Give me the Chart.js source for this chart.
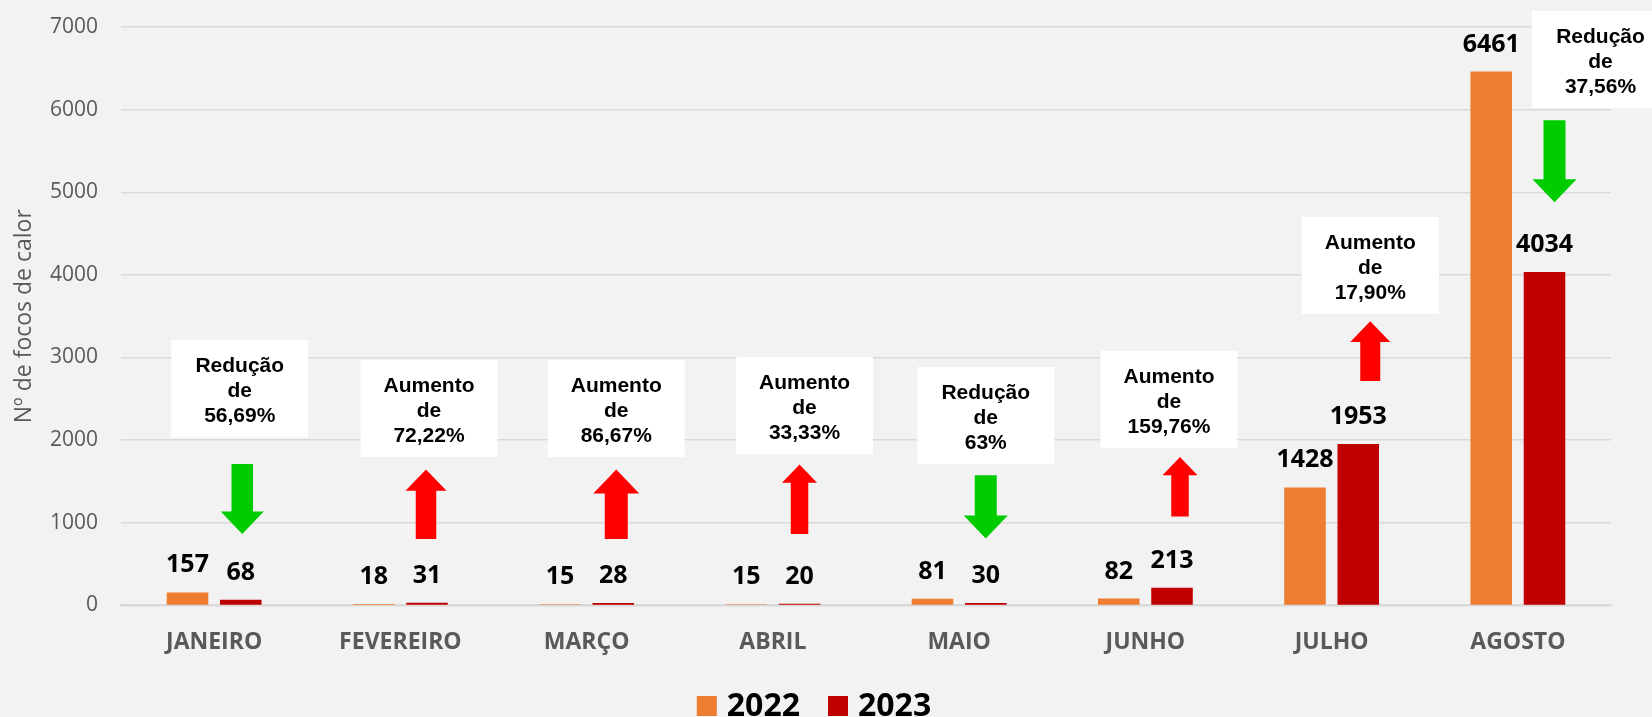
<!DOCTYPE html>
<html>
<head>
<meta charset="utf-8">
<script src="https://cdn.jsdelivr.net/npm/chart.js@4.4.0/dist/chart.umd.min.js"></script>
<style>
  html, body { margin: 0; padding: 0; background: #f2f2f2; overflow: hidden; }
  canvas { display: block; }
</style>
</head>
<body>
<canvas id="focosChart" width="1652" height="717"></canvas>
<script>
// Focos de calor por mês
const months = ['JANEIRO', 'FEVEREIRO', 'MARÇO', 'ABRIL', 'MAIO', 'JUNHO', 'JULHO', 'AGOSTO'];
const focos2022 = [157, 18, 15, 15, 81, 82, 1428, 6461];
const focos2023 = [68, 31, 28, 20, 30, 213, 1953, 4034];
const yTicks = [0, 1000, 2000, 3000, 4000, 5000, 6000, 7000];

// variação 2023 x 2022
const variationText = [
    ['Redução', 'de', '56,69%'],
    ['Aumento', 'de', '72,22%'],
    ['Aumento', 'de', '86,67%'],
    ['Aumento', 'de', '33,33%'],
    ['Redução', 'de', '63%'],
    ['Aumento', 'de', '159,76%'],
    ['Aumento', 'de', '17,90%'],
    ['Redução', 'de', '37,56%']
];
const variationDir = ['down', 'up', 'up', 'up', 'down', 'up', 'up', 'down'];

// where the callouts sit (value units on the y axis, px offsets from the 2023 bar)
const boxTop = [3210, 2970, 2970, 3005, 2885, 3080, 4700, 7195];
const boxDx = [-1, 2, 3, 5, 0, -3, 12, 56];
const arrowHigh = [1710, 1645, 1645, 1705, 1575, 1795, 3440, 5870];
const arrowLow = [865, 805, 805, 865, 810, 1075, 2715, 4880];
const arrowDx = [1.5, -1, 3, 0, 0, 8, 12, 10];
const arrowHead = [43, 41, 46, 35, 44, 35, 40, 44];

const ORANGE = '#ED7D31';
const DARKRED = '#C00000';

const valueLabels = {
    id: 'valueLabels',
    afterDatasetsDraw(chart) {
        const ctx = chart.ctx;
        ctx.save();
        ctx.font = 'bold 25px "Open Sans"';
        ctx.fillStyle = '#000';
        ctx.textAlign = 'center';
        ctx.textBaseline = 'alphabetic';
        chart.data.datasets.forEach((ds, di) => {
            chart.getDatasetMeta(di).data.forEach((bar, i) => {
                ctx.fillText(ds.data[i], bar.x, bar.y - 20);
            });
        });
        ctx.restore();
    }
};

const callouts = {
    id: 'callouts',
    afterDatasetsDraw(chart) {
        const ctx = chart.ctx;
        const y = chart.scales.y;
        const bars = chart.getDatasetMeta(1).data;
        ctx.save();
        bars.forEach((bar, i) => {
            // white box with text
            const cx = bar.x + boxDx[i];
            const top = y.getPixelForValue(boxTop[i]);
            ctx.fillStyle = '#fff';
            ctx.fillRect(cx - 68.5, top, 137, 97);
            ctx.fillStyle = '#000';
            ctx.font = 'bold 21px "Liberation Sans", Arial';
            ctx.textAlign = 'center';
            ctx.textBaseline = 'alphabetic';
            variationText[i].forEach((line, k) => {
                ctx.fillText(line, cx, top + 32 + k * 25);
            });

            // arrow
            const ax = bar.x + arrowDx[i];
            const yHigh = y.getPixelForValue(arrowHigh[i]);
            const yLow = y.getPixelForValue(arrowLow[i]);
            const hw = arrowHead[i];
            const sw = hw / 2;
            const hl = hw * 0.52;
            ctx.beginPath();
            if (variationDir[i] === 'down') {
                ctx.fillStyle = '#00CC00';
                ctx.moveTo(ax - sw / 2, yHigh);
                ctx.lineTo(ax + sw / 2, yHigh);
                ctx.lineTo(ax + sw / 2, yLow - hl);
                ctx.lineTo(ax + hw / 2, yLow - hl);
                ctx.lineTo(ax, yLow);
                ctx.lineTo(ax - hw / 2, yLow - hl);
                ctx.lineTo(ax - sw / 2, yLow - hl);
            } else {
                ctx.fillStyle = '#FF0000';
                ctx.moveTo(ax, yHigh);
                ctx.lineTo(ax + hw / 2, yHigh + hl);
                ctx.lineTo(ax + sw / 2, yHigh + hl);
                ctx.lineTo(ax + sw / 2, yLow);
                ctx.lineTo(ax - sw / 2, yLow);
                ctx.lineTo(ax - sw / 2, yHigh + hl);
                ctx.lineTo(ax - hw / 2, yHigh + hl);
            }
            ctx.closePath();
            ctx.fill();
        });
        ctx.restore();
    }
};

const bottomLegend = {
    id: 'bottomLegend',
    afterDraw(chart) {
        const ctx = chart.ctx;
        ctx.save();
        ctx.font = 'bold 32px "Open Sans"';
        ctx.textBaseline = 'middle';
        ctx.textAlign = 'left';
        const items = chart.data.datasets.map(ds => ({ label: ds.label, color: ds.backgroundColor }));
        const gap = 10, box = 20, between = 28;
        const widths = items.map(it => box + gap + ctx.measureText(it.label).width);
        const total = widths.reduce((a, b) => a + b, 0) + between * (items.length - 1);
        let x = chart.width / 2 - 12 - total / 2;
        const cy = 706;
        items.forEach((it, i) => {
            ctx.fillStyle = it.color;
            ctx.fillRect(x, cy - 10, box, box);
            ctx.fillStyle = '#000';
            ctx.fillText(it.label, x + box + gap, cy + 1);
            x += widths[i] + between;
        });
        ctx.restore();
    }
};

const ctx1 = document.getElementById('focosChart').getContext('2d');
new Chart(ctx1, {
    type: 'bar',
    data: {
        labels: months,
        datasets: [
            { label: '2022', data: focos2022, backgroundColor: ORANGE },
            { label: '2023', data: focos2023, backgroundColor: DARKRED }
        ]
    },
    options: {
        responsive: false,
        animation: false,
        devicePixelRatio: 1,
        layout: { padding: { top: 27, right: 41, bottom: 38, left: 0 } },
        datasets: {
            bar: { categoryPercentage: 0.572, barPercentage: 0.78 }
        },
        plugins: {
            legend: { display: false },
            tooltip: { enabled: false }
        },
        scales: {
            x: {
                grid: { display: false, drawTicks: false },
                border: { color: '#d9d9d9', width: 2 },
                ticks: {
                    color: '#595959',
                    padding: 23,
                    font: { family: 'Open Sans', size: 23, weight: 'bold' }
                }
            },
            y: {
                min: 0,
                max: 7000,
                afterBuildTicks: scale => { scale.ticks = yTicks.map(v => ({ value: v })); },
                afterFit: scale => { scale.width = 121; },
                grid: {
                    color: '#d9d9d9',
                    lineWidth: 1.5,
                    drawTicks: true,
                    tickLength: 23,
                    tickColor: 'rgba(0,0,0,0)'
                },
                border: { display: false },
                ticks: {
                    color: '#595959',
                    padding: 0,
                    font: { family: 'Open Sans', size: 21 },
                    callback: v => String(v)
                },
                title: {
                    display: true,
                    text: 'Nº de focos de calor',
                    color: '#595959',
                    padding: { top: 11, bottom: 0 },
                    font: { family: 'Open Sans', size: 23 }
                }
            }
        }
    },
    plugins: [valueLabels, callouts, bottomLegend]
});
</script>
</body>
</html>
